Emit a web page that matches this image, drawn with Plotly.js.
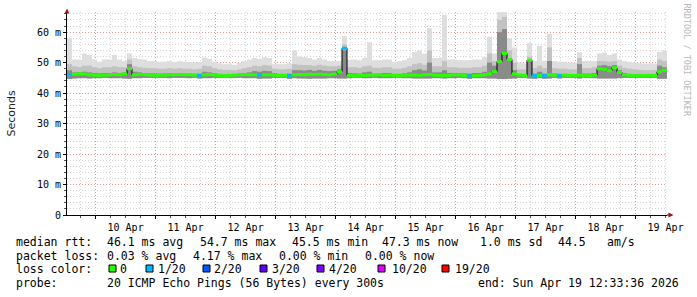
<!DOCTYPE html>
<html><head><meta charset="utf-8">
<script src="https://cdn.plot.ly/plotly-3.0.1.min.js"></script>
<style>html,body{margin:0;padding:0;background:#fff}</style>
</head><body><div id="chart" style="width:697px;height:297px"></div>
<script>
// ---------------- data ----------------
const startTime = Date.UTC(2026, 3, 9, 12, 33, 36);
const endTime   = Date.UTC(2026, 3, 19, 12, 33, 36);
const binHours  = 2;

const dayTickDates = ['2026-04-10','2026-04-11','2026-04-12','2026-04-13','2026-04-14',
                      '2026-04-15','2026-04-16','2026-04-17','2026-04-18','2026-04-19'];
const dayLabels = ['10 Apr','11 Apr','12 Apr','13 Apr','14 Apr','15 Apr','16 Apr','17 Apr','18 Apr','19 Apr'];
const yTickValues = [0, 10, 20, 30, 40, 50, 60];
const yTickLabels = ['0', '10 m', '20 m', '30 m', '40 m', '50 m', '60 m'];

// median RTT per 2-hour bin (ms)
const medianRtt = [
  46.0,46.2,46.3,46.3,46.0,45.9,45.8,45.9,46.0,46.1,
  46.0,46.3,48.0,46.0,46.2,46.1,45.9,45.9,45.8,45.9,
  46.0,46.0,46.1,46.0,46.0,45.9,45.8,46.0,46.1,45.9,
  45.8,45.7,45.8,45.9,46.0,46.1,46.0,46.0,45.9,46.0,
  46.0,45.9,45.8,45.8,45.7,46.0,46.1,46.0,46.2,46.1,
  46.2,46.1,46.0,46.2,47.0,54.7,45.8,45.7,45.8,45.8,
  45.9,45.9,46.0,45.8,45.9,45.8,45.7,45.8,45.9,45.9,
  45.8,46.0,46.1,45.9,45.8,45.8,45.8,46.0,45.9,45.8,
  45.6,45.7,45.8,46.0,46.3,47.0,50.3,53.0,51.0,46.3,
  45.9,45.8,50.8,45.7,45.8,45.7,46.0,45.9,45.8,45.9,
  45.8,45.8,45.9,45.8,45.7,45.9,48.0,47.8,47.3,48.3,
  46.8,46.0,45.8,45.7,45.8,45.7,45.8,45.8,47.0,47.5
];
// lost pings (of 20) per bin
const lossPings = [
  1,0,0,0,0,0,0,0,0,0,
  0,0,0,0,0,0,0,0,0,0,
  0,0,0,0,0,0,1,0,0,0,
  0,0,0,0,0,0,0,0,1,0,
  0,0,0,0,1,0,0,0,0,0,
  0,0,0,0,0,1,0,0,0,0,
  0,0,0,0,0,0,0,0,0,0,
  0,0,0,0,0,0,0,0,0,0,
  1,0,0,0,0,0,0,0,0,0,
  0,0,0,1,0,1,0,0,1,0,
  0,0,0,0,0,0,0,0,0,0,
  0,0,0,0,0,0,0,0,0,0
];
// smoke: lowest ping, upper edge of dark, mid and light layers (ms)
const smokeMin = [
  44.6,44.8,44.9,44.9,44.8,44.9,44.9,45.0,44.9,44.9,
  44.9,44.8,44.7,44.9,44.9,45.0,45.0,45.0,45.0,45.0,
  44.9,45.0,45.0,45.0,44.9,45.0,44.8,44.9,44.9,45.0,
  45.0,45.0,45.0,45.0,45.0,44.9,44.9,44.9,44.7,44.8,
  44.8,45.0,45.0,45.0,44.7,44.9,44.8,44.8,44.7,44.8,
  44.8,44.8,44.9,44.9,44.8,44.8,44.9,45.0,45.0,44.9,
  44.9,45.0,44.9,44.9,44.9,45.0,45.0,44.9,44.9,44.8,
  44.8,44.8,44.8,44.9,44.9,44.8,44.9,44.9,45.0,44.9,
  44.7,44.9,44.9,44.9,44.8,44.8,44.6,44.6,44.7,44.8,
  45.0,45.0,44.8,44.7,44.9,44.7,44.8,45.0,44.8,45.0,
  45.0,45.0,44.8,45.0,45.0,44.9,44.8,44.8,44.8,44.8,
  44.9,45.0,45.0,45.0,45.0,45.0,45.0,45.0,44.7,44.7
];
const smokeDark = [
  47.5,46.8,46.8,47.0,46.8,46.6,46.5,46.6,46.6,46.8,
  46.6,46.8,49.5,47.0,46.8,46.6,46.5,46.5,46.4,46.4,
  46.5,46.4,46.5,46.4,46.4,46.3,46.4,47.0,46.8,46.5,
  46.3,46.2,46.2,46.2,46.4,46.6,46.8,47.2,47.0,47.3,
  47.2,46.5,46.3,46.3,46.4,47.5,47.5,47.4,47.6,47.3,
  47.6,47.3,47.2,47.3,47.8,54.0,46.6,46.5,46.4,46.8,
  47.0,46.4,46.4,46.6,46.6,46.3,46.3,46.5,46.8,47.5,
  47.8,47.4,50.0,46.8,46.8,47.5,46.6,46.6,46.5,46.5,
  46.4,46.6,46.6,47.0,50.0,49.0,60.0,61.0,51.0,47.5,
  46.3,46.3,51.0,46.4,47.0,46.4,50.5,46.4,46.3,46.3,
  46.2,46.2,49.5,46.4,46.4,46.6,49.0,49.2,48.8,49.2,
  47.5,46.6,46.3,46.2,46.1,46.0,46.0,46.1,49.0,48.5
];
const smokeMid = [
  49.5,48.8,48.5,49.0,49.0,48.5,48.2,48.5,48.5,48.8,
  48.5,48.5,51.0,48.8,48.5,48.3,48.2,48.2,48.0,48.0,
  48.2,48.0,48.2,48.0,48.0,47.8,48.0,49.0,48.8,48.2,
  47.8,47.6,47.6,47.5,47.8,48.2,48.5,49.0,48.8,49.2,
  49.0,48.0,47.8,47.8,48.0,49.5,49.3,49.2,49.2,49.0,
  49.3,49.0,48.8,48.8,49.0,56.0,48.5,48.5,48.3,48.8,
  49.0,48.3,48.3,48.5,48.5,48.0,48.0,48.3,48.8,49.5,
  49.8,49.3,54.0,48.8,48.8,50.5,48.5,48.5,48.3,48.3,
  48.3,48.5,48.5,49.0,53.0,50.5,64.0,65.0,54.0,50.0,
  47.8,47.8,52.0,48.2,49.0,48.2,55.0,48.2,48.0,48.0,
  47.8,47.8,51.5,48.2,48.2,48.5,50.5,50.5,50.3,50.5,
  49.0,48.3,48.0,47.8,47.6,47.5,47.5,47.6,51.0,50.5
];
const smokeMax = [
  58.0,51.0,51.0,53.0,52.5,51.0,50.3,51.0,51.0,52.5,
  51.0,50.5,53.0,51.5,51.2,51.0,50.5,50.5,50.3,50.3,
  50.5,50.2,50.5,50.3,50.2,50.0,50.2,51.7,51.3,50.3,
  49.8,49.5,49.5,49.3,50.0,50.5,51.0,51.5,51.2,51.8,
  51.5,49.5,49.5,49.5,49.8,54.0,52.0,51.8,51.5,51.0,
  51.5,51.0,50.5,50.5,50.5,58.7,51.0,51.0,50.8,51.5,
  56.7,50.8,50.8,51.0,51.0,50.3,50.5,50.8,51.5,53.5,
  54.0,53.0,61.3,51.5,51.5,65.6,51.0,51.0,50.8,50.8,
  50.8,51.0,51.0,51.8,58.4,53.0,66.6,66.6,58.0,55.0,
  50.0,49.8,56.4,50.5,55.5,50.5,59.5,50.5,50.3,50.3,
  50.0,50.0,53.4,50.5,50.5,50.5,53.0,53.3,52.5,53.0,
  51.0,50.5,50.3,50.0,49.8,49.7,49.7,49.7,53.5,54.0
];

const lossSteps  = [0, 1, 2, 3, 4, 10, 19];
const lossLabels = ['0', '1/20', '2/20', '3/20', '4/20', '10/20', '19/20'];
const lossColors = ['#26ff00', '#00b8ff', '#0059ff', '#5e00ff', '#7e00ff', '#dd00ff', '#ff0000'];

const rttLine   = ['median rtt:', '46.1 ms avg', '54.7 ms max', '45.5 ms min', '47.3 ms now', '1.0 ms sd', '44.5', 'am/s'];
const lossLine  = ['packet loss:', '0.03 % avg', '4.17 % max', '0.00 % min', '0.00 % now'];
const colorHead = 'loss color:';
const probeLine = ['probe:', '20 ICMP Echo Pings (56 Bytes) every 300s', 'end: Sun Apr 19 12:33:36 2026'];
const yTitle = 'Seconds';
const watermark = 'RRDTOOL / TOBI OETIKER';

// ---------------- build ----------------
const binMs = binHours * 3600 * 1000;
const binStart = medianRtt.map((_, i) => startTime + i * binMs);
const binMid = binStart.map(t => t + binMs / 2);

function layer(top, color) {
  return {
    type: 'bar', x: binMid, base: smokeMin, y: top.map((v, i) => v - smokeMin[i]),
    width: binMs, marker: {color: color, line: {width: 0}}, hoverinfo: 'skip', showlegend: false
  };
}
const traces = [
  layer(smokeMax, '#dedede'),
  layer(smokeMid, '#c2c2c2'),
  layer(smokeDark, '#8a8a8a')
];
// black median step line
traces.push({
  type: 'scatter', mode: 'lines', x: binStart.concat([endTime]),
  y: medianRtt.concat([medianRtt[medianRtt.length - 1]]),
  line: {shape: 'hv', color: '#000000', width: 1}, hoverinfo: 'skip', showlegend: false
});
function colorIndex(loss) {
  let c = 0;
  lossSteps.forEach((s, j) => { if (loss >= s) c = j; });
  return c;
}
lossColors.forEach((col, c) => {
  const xs = [], ys = [];
  medianRtt.forEach((m, i) => {
    if (colorIndex(lossPings[i]) === c) {
      xs.push(binStart[i], binStart[i] + binMs, null);
      ys.push(m, m, null);
    }
  });
  if (xs.length) traces.push({
    type: 'scatter', mode: 'lines', x: xs, y: ys, connectgaps: false,
    line: {color: col, width: 3}, hoverinfo: 'skip', showlegend: false
  });
});

// pixel -> paper helpers for the text block under the plot
const L = 67, T = 12, W = 600, H = 203;
const px = x => (x - L) / W;
const py = y => (T + H - y) / H;
const mono = {family: 'DejaVu Sans Mono', size: 11.5, color: '#000'};

const annotations = [];
function txt(x, y, s) {
  annotations.push({xref: 'paper', yref: 'paper', x: px(x - 1), y: py(y), text: s,
    showarrow: false, xanchor: 'left', yanchor: 'middle', font: mono, borderpad: 0});
}
[16, 107, 200, 292, 382, 480, 558, 607].forEach((x, k) => txt(x, 241.5, rttLine[k]));
[16, 107, 193, 279, 365].forEach((x, k) => txt(x, 255.5, lossLine[k]));
txt(16, 269, colorHead);
const boxX = [109, 146, 203, 260, 317, 378, 442];
const labX = [120, 157.5, 214.3, 271.7, 328.5, 391.7, 455];
const shapes = [];
lossLabels.forEach((lab, k) => {
  txt(labX[k], 269, lab);
  shapes.push({type: 'rect', xref: 'paper', yref: 'paper',
    x0: px(boxX[k]), x1: px(boxX[k] + 7), y0: py(265), y1: py(272),
    fillcolor: lossColors[k], line: {color: '#000', width: 1}});
});
[16, 107, 478].forEach((x, k) => txt(x, 283, probeLine[k]));

annotations.push({xref: 'paper', yref: 'paper', x: px(11), y: 0.5, text: yTitle, textangle: -90,
  xanchor: 'center', yanchor: 'middle',
  showarrow: false, font: {family: 'DejaVu Sans', size: 11, color: '#222'}});
annotations.push({xref: 'paper', yref: 'paper', x: px(686.5), y: py(60), text: watermark, textangle: 90,
  xanchor: 'center', yanchor: 'middle',
  showarrow: false, font: {family: 'DejaVu Sans Mono', size: 8.5, color: '#b8b8b8'}});

// axis arrows
shapes.push({type: 'path', xref: 'paper', yref: 'paper', fillcolor: '#a01818', line: {width: 0},
  path: `M ${px(67)},${py(8.5)} L ${px(64.5)},${py(13.5)} L ${px(69.5)},${py(13.5)} Z`});
shapes.push({type: 'line', xref: 'paper', yref: 'paper', x0: px(667), x1: px(670), y0: 0, y1: 0,
  line: {color: '#000', width: 1}});
shapes.push({type: 'path', xref: 'paper', yref: 'paper', fillcolor: '#a01818', line: {width: 0},
  path: `M ${px(673.5)},${py(215)} L ${px(668.5)},${py(212.5)} L ${px(668.5)},${py(217.5)} Z`});

const gridMajor = 'rgba(235,110,110,0.6)';
const gridMinor = 'rgba(150,150,150,0.4)';
const gridDash = '1px,2px';
const tickFont = {family: 'DejaVu Sans Mono', size: 10, color: '#000'};

const layout = {
  width: 697, height: 297,
  margin: {l: L, r: 697 - L - W, t: T, b: 297 - T - H, pad: 0},
  paper_bgcolor: '#ffffff', plot_bgcolor: '#ffffff',
  barmode: 'overlay', showlegend: false,
  xaxis: {
    type: 'date', range: [startTime, endTime], fixedrange: true,
    tickmode: 'array', tickvals: dayTickDates, ticktext: dayLabels, ticklabelshift: 30,
    showgrid: true, gridcolor: gridMajor, griddash: gridDash, gridwidth: 1,
    showline: true, linecolor: '#000', linewidth: 1, zeroline: false,
    ticks: 'outside', ticklen: 3, tickcolor: '#000', tickfont: tickFont,
    minor: {dtick: 6 * 3600 * 1000, tick0: '2026-04-10', showgrid: true, gridcolor: gridMinor,
            griddash: gridDash, gridwidth: 1, ticks: 'outside', ticklen: 2, tickcolor: '#555'}
  },
  yaxis: {
    range: [0, 66.6], fixedrange: true,
    tickmode: 'array', tickvals: yTickValues, ticktext: yTickLabels,
    showgrid: true, gridcolor: gridMajor, griddash: gridDash, gridwidth: 1,
    showline: true, linecolor: '#000', linewidth: 1, zeroline: false,
    ticks: 'outside', ticklen: 3, tickcolor: '#000', tickfont: tickFont,
    minor: {dtick: 2, showgrid: true, gridcolor: gridMinor, griddash: gridDash, gridwidth: 1,
            ticks: 'outside', ticklen: 2, tickcolor: '#555'}
  },
  annotations: annotations,
  shapes: shapes
};

Plotly.newPlot('chart', traces, layout, {staticPlot: true, displayModeBar: false});
</script>
</body></html>
